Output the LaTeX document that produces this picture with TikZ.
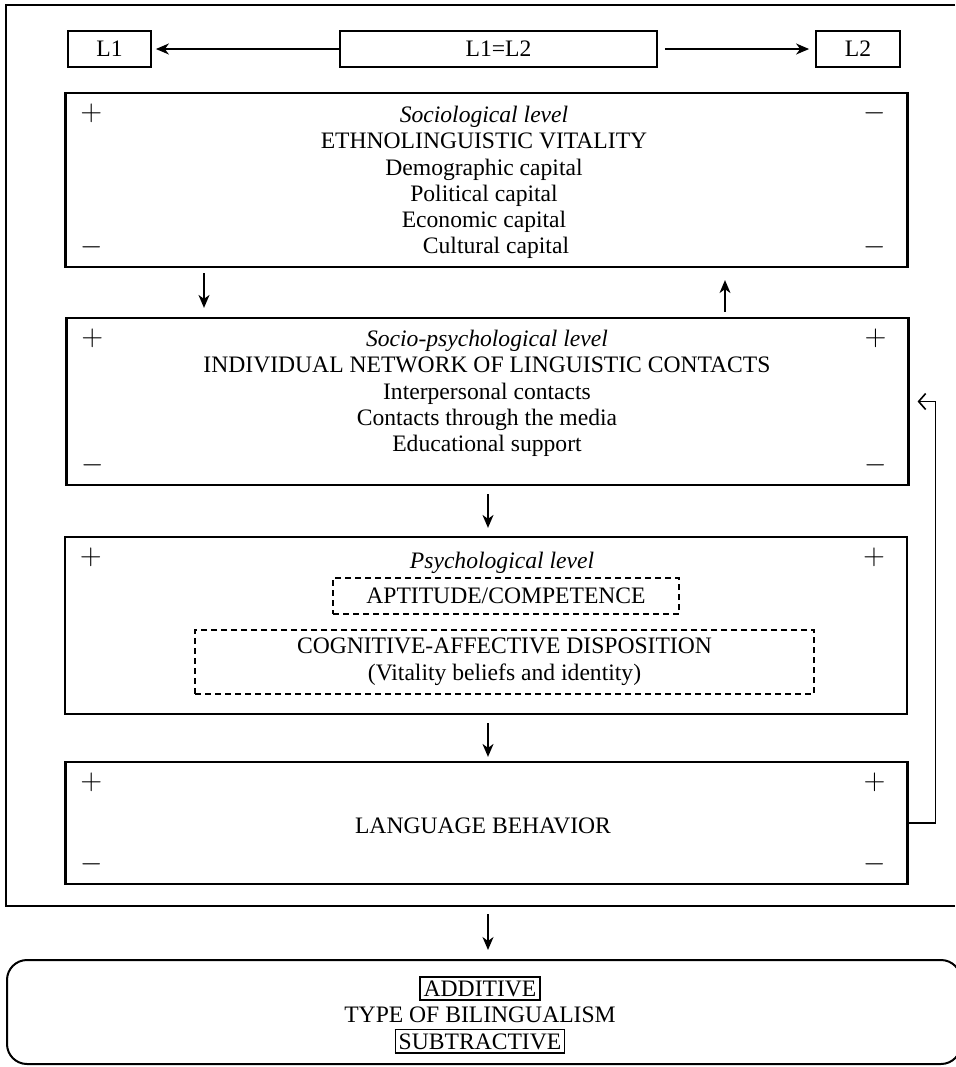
\documentclass[tikz,border=0pt]{standalone}
\usepackage{fontspec}
\setmainfont{Liberation Serif}
\usetikzlibrary{arrows.meta}

\tikzset{
  every node/.style={font=\fontsize{11.8}{13.1}\selectfont},
  levelbox/.style={draw, line width=1.1pt, minimum width=421pt, inner sep=0pt},
  langbox/.style={draw, line width=0.9pt, minimum height=18pt, inner sep=0pt},
  dashbox/.style={draw, line width=0.8pt, dash pattern=on 3pt off 2pt, inner sep=0pt},
  sign/.style={inner sep=0pt, font=\fontsize{13.5}{14}\selectfont},
  flow/.style={-{Stealth[length=6.5pt,width=5.5pt,inset=2pt]}, line width=0.8pt},
  backflow/.style={-{Straight Barb[length=3.5pt,width=8pt]}, line width=0.8pt},
}

\begin{document}
\begin{tikzpicture}[x=0.5pt,y=-0.5pt]
	\useasboundingbox (0,0) rectangle (955,1067);

	% Marc exterior
	\draw[line width=1.3pt] (955,5) -- (6,5) -- (6,906) -- (955,906);
	\coordinate (framebot) at (488,906);

	% Llengues
	\node[langbox, minimum width=41.5pt] (L1) at (109.5,49) {L1};
	\node[langbox, minimum width=158.5pt] (L12) at (498.5,49) {L1=L2};
	\node[langbox, minimum width=42pt] (L2) at (858,49) {L2};
	\draw[flow, shorten >=2pt] (L12) -- (L1);
	\draw[flow, shorten <=3.5pt, shorten >=3pt] (L12) -- (L2);

	% Nivells
	\node[levelbox, minimum height=87pt] (soc) at (486.5,180) {};
	\node[levelbox, minimum height=83.5pt] (socpsy) at (487.5,401.5) {};
	\node[levelbox, minimum height=88.5pt] (psy) at (486,625.5) {};
	\node[levelbox, minimum height=61pt] (lb) at (486.5,823) {};

	% Signes
	\foreach \b/\tl/\tr/\bl/\br in {soc/+/-/-/-, socpsy/+/+/-/-, psy/+/+//, lb/+/+/-/-} {
		\node[sign] (\b-tl) at ([xshift=13.5pt,yshift=-10.5pt]\b.north west) {$\tl$};
		\node[sign] (\b-tr) at ([xshift=-17pt,yshift=-10.5pt]\b.north east) {$\tr$};
		\node[sign] (\b-bl) at ([xshift=13.5pt,yshift=10.5pt]\b.south west) {$\bl$};
		\node[sign] (\b-br) at ([xshift=-17pt,yshift=10.5pt]\b.south east) {$\br$};
	}

	% Textos
	\node[align=center] (soc-txt) at (484,182.5) {\textit{Sociological level}\\
		ETHNOLINGUISTIC VITALITY\\Demographic capital\\Political capital\\
		Economic capital\\\hspace*{12pt}Cultural capital};
	\node[align=center] (socpsy-txt) at (487,393.5) {\textit{Socio-psychological level}\\
		INDIVIDUAL NETWORK OF LINGUISTIC CONTACTS\\Interpersonal contacts\\
		Contacts through the media\\Educational support};
	\node (psy-txt) at (502,563) {\textit{Psychological level}};
	\node[dashbox, minimum width=173pt, minimum height=18pt] (apt) at (506,596)
		{APTITUDE/COMPETENCE};
	\node[dashbox, align=center, minimum width=309.5pt, minimum height=32pt,
		font=\fontsize{11.8}{13.5}\selectfont] (cog) at (504.5,662)
		{COGNITIVE-AFFECTIVE DISPOSITION\\(Vitality beliefs and identity)};
	\node (lb-txt) at (483,826) {LANGUAGE BEHAVIOR};

	% Fletxes entre nivells
	\coordinate (down) at (204,0);
	\coordinate (up) at (725,0);
	\draw[flow, shorten <=2.5pt, shorten >=4.5pt] (soc.south -| down) -- (socpsy.north -| down);
	\draw[flow, shorten <=2.5pt, shorten >=6pt] (socpsy.north -| up) -- (soc.south -| up);
	\draw[flow, shorten <=4pt, shorten >=4pt] (socpsy.south -| framebot) -- (psy.north -| framebot);
	\draw[flow, shorten <=4pt, shorten >=2pt] (psy.south -| framebot) -- (lb.north -| framebot);
	\draw[backflow, shorten >=4pt] (lb.east) -- ++(27,0) |- (socpsy.east);

	% Tipus de bilinguisme
	\node[draw, line width=1pt, rounded corners=10pt, minimum width=477pt,
		minimum height=52pt, inner sep=0pt] (typebox) at (484,1012) {};
	\node[align=center, font=\fontsize{11.8}{13.25}\selectfont] (bil) at (480,1015)
		{\fboxsep=1.5pt\fboxrule=0.6pt\fbox{ADDITIVE}\\TYPE OF BILINGUALISM\\
		\fboxsep=1.5pt\fboxrule=0.6pt\fbox{SUBTRACTIVE}};
	\draw[flow, shorten <=4pt, shorten >=4.5pt] (framebot) -- (typebox.north -| framebot);
\end{tikzpicture}
\end{document}
